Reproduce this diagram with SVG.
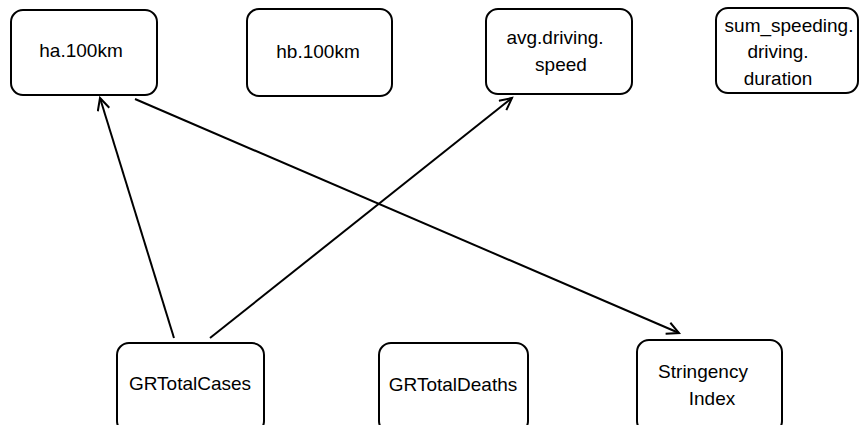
<svg xmlns="http://www.w3.org/2000/svg" width="859" height="425" viewBox="0 0 859 425">
<style>
.box{fill:#fff;stroke:#000;stroke-width:2}
.lbl{font-family:"Liberation Sans",Arial,sans-serif;font-size:19px;fill:#000;text-anchor:middle}
.edge{fill:none;stroke:#000;stroke-width:2}
</style>
<defs>
<marker id="arr" markerUnits="userSpaceOnUse" markerWidth="20" markerHeight="20" refX="14" refY="7" orient="auto">
<path d="M2,1 L14,7 L2,13" fill="none" stroke="#000" stroke-width="2"/>
</marker>
</defs>
<rect width="859" height="425" fill="#fff"/>
<g id="connectors">
<line class="edge" x1="174" y1="338" x2="100" y2="98" marker-end="url(#arr)"/>
<line class="edge" x1="210" y1="338" x2="512" y2="98" marker-end="url(#arr)"/>
<line class="edge" x1="135" y1="99" x2="679" y2="333" marker-end="url(#arr)"/>
</g>
<g id="ha100km">
<rect class="box" x="11" y="10" width="146" height="85" rx="12"/>
<text class="lbl" x="81" y="57">ha.100km</text>
</g>
<g id="hb100km">
<rect class="box" x="247" y="9" width="145" height="87" rx="12"/>
<text class="lbl" x="318" y="58">hb.100km</text>
</g>
<g id="avgdrivingspeed">
<rect class="box" x="486" y="9" width="146" height="85" rx="12"/>
<text class="lbl" x="555" y="44">avg.driving.</text>
<text class="lbl" x="561" y="71">speed</text>
</g>
<g id="sumspeeding">
<rect class="box" x="716" y="8" width="142" height="85" rx="12"/>
<text class="lbl" x="789" y="32">sum_speeding.</text>
<text class="lbl" x="778" y="58">driving.</text>
<text class="lbl" x="778" y="85">duration</text>
</g>
<g id="GRTotalCases">
<rect class="box" x="117" y="343" width="147" height="90" rx="12"/>
<text class="lbl" x="190" y="390">GRTotalCases</text>
</g>
<g id="GRTotalDeaths">
<rect class="box" x="379" y="343" width="149" height="90" rx="12"/>
<text class="lbl" x="453" y="391">GRTotalDeaths</text>
</g>
<g id="StringencyIndex">
<rect class="box" x="637" y="340" width="145" height="93" rx="12"/>
<text class="lbl" x="703" y="378">Stringency</text>
<text class="lbl" x="712" y="405">Index</text>
</g>
</svg>
